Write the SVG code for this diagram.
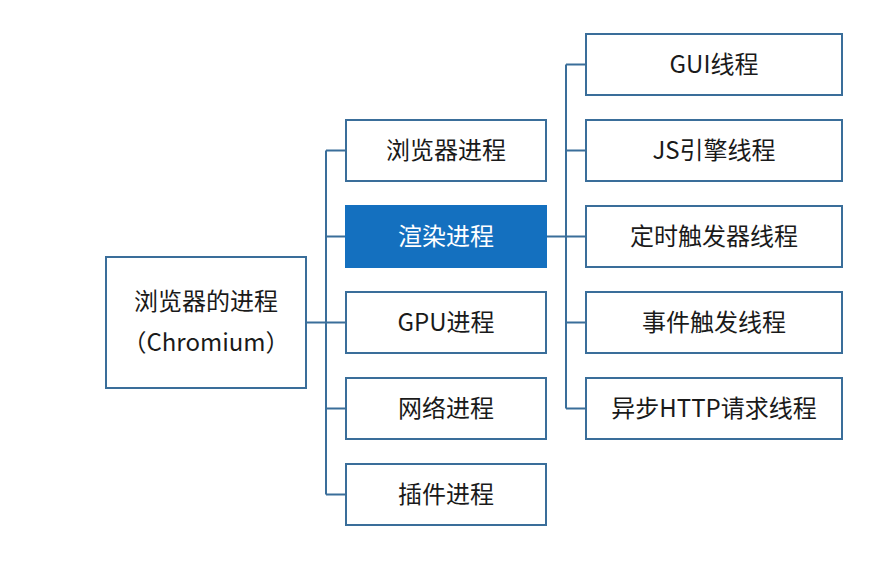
<svg xmlns="http://www.w3.org/2000/svg" width="885" height="576" viewBox="0 0 885 576">
<style>
.box{fill:#ffffff;stroke:#3a6e9a;stroke-width:2}
.hl{fill:#1470bf;stroke:#1470bf;stroke-width:2}
.t{font-family:"Noto Sans CJK SC","Noto Sans",sans-serif;font-size:24px;fill:#1a1a1a;text-anchor:middle;dominant-baseline:central}
.tw{fill:#ffffff}
.c{fill:none;stroke:#3a6e9a;stroke-width:2}
</style>
<rect width="885" height="576" fill="#ffffff"/>
<g id="connectors">
<path class="c" d="M306 322.5H326M326 150.5V494.5M326 150.5H346M326 236.5H346M326 322.5H346M326 408.5H346M326 494.5H346"/>
<path class="c" d="M546 236.5H566M566 64.5V408.5M566 64.5H586M566 150.5H586M566 236.5H586M566 322.5H586M566 408.5H586"/>
</g>
<g id="root"><rect class="box" x="106" y="257" width="200" height="131"/>
<text class="t" x="206" y="299">浏览器的进程</text><text class="t" x="206" y="340">（Chromium）</text></g>
<g id="p1"><rect class="box" x="346" y="120" width="200" height="61"/><text class="t" x="446" y="148.5">浏览器进程</text></g>
<g id="p2"><rect class="hl" x="346" y="206" width="200" height="61"/><text class="t tw" x="446" y="234.5">渲染进程</text></g>
<g id="p3"><rect class="box" x="346" y="292" width="200" height="61"/><text class="t" x="446" y="320.5">GPU进程</text></g>
<g id="p4"><rect class="box" x="346" y="378" width="200" height="61"/><text class="t" x="446" y="406.5">网络进程</text></g>
<g id="p5"><rect class="box" x="346" y="464" width="200" height="61"/><text class="t" x="446" y="492.5">插件进程</text></g>
<g id="r1"><rect class="box" x="586" y="34" width="256" height="61"/><text class="t" x="714" y="62.5">GUI线程</text></g>
<g id="r2"><rect class="box" x="586" y="120" width="256" height="61"/><text class="t" x="714" y="148.5">JS引擎线程</text></g>
<g id="r3"><rect class="box" x="586" y="206" width="256" height="61"/><text class="t" x="714" y="234.5">定时触发器线程</text></g>
<g id="r4"><rect class="box" x="586" y="292" width="256" height="61"/><text class="t" x="714" y="320.5">事件触发线程</text></g>
<g id="r5"><rect class="box" x="586" y="378" width="256" height="61"/><text class="t" x="714" y="406.5">异步HTTP请求线程</text></g>
</svg>
